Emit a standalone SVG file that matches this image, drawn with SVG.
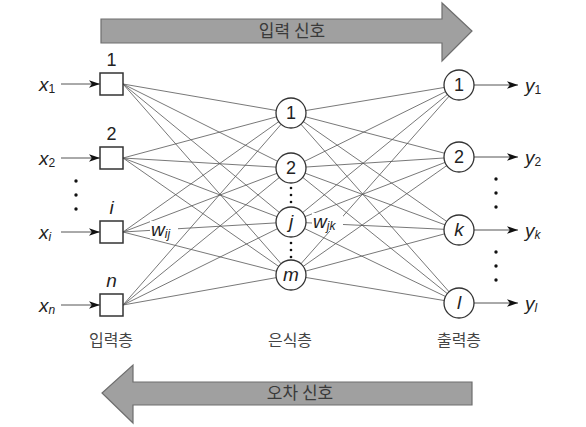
<svg xmlns="http://www.w3.org/2000/svg" width="586" height="427" viewBox="0 0 586 427">
<defs>
<style>
.big{fill:#a0a0a0;stroke:#6e6e6e;stroke-width:1.2}
.bt{font-family:"Noto Sans CJK KR","Liberation Sans",sans-serif;font-size:17px;fill:#3a3a3a;text-anchor:middle}
.lt{font-family:"Noto Sans CJK KR","Liberation Sans",sans-serif;font-size:16px;fill:#444;text-anchor:middle}
.sq{fill:#fff;stroke:#333;stroke-width:1.5}
.nd{fill:#fff;stroke:#333;stroke-width:1.3}
.num{font-family:"Liberation Sans",Arial,sans-serif;font-size:18px;fill:#222;text-anchor:middle}
.it{font-family:"Liberation Sans",Arial,sans-serif;font-size:19px;font-style:italic;fill:#222}
.sub{font-size:12px}
.w{stroke:#555;stroke-width:0.8;fill:none}
.io{stroke:#555;stroke-width:1;fill:none;marker-end:url(#ah)}
.dot{fill:#111}
</style>
<marker id="ah" viewBox="0 0 10 10" refX="10" refY="5" markerWidth="11" markerHeight="11" markerUnits="userSpaceOnUse" orient="auto">
<path d="M0,1.5 L10,5 L0,8.5 L2.5,5 Z" fill="#111"/>
</marker>
</defs>

<g id="arrow-forward">
<path class="big" d="M101,19 H442 V3 L472,31 L442,61 V43 H101 Z"/>
<text class="bt" x="292" y="37">입력 신호</text>
</g>
<g id="arrow-backward">
<path class="big" d="M472,382 H133 V365 L102,393 L133,423 V405 H472 Z"/>
<text class="bt" x="300" y="399">오차 신호</text>
</g>

<g id="connectors">
<g id="weights-ih">
<line class="w" x1="123" y1="84" x2="291" y2="113"/>
<line class="w" x1="123" y1="84" x2="291" y2="168"/>
<line class="w" x1="123" y1="84" x2="291" y2="222"/>
<line class="w" x1="123" y1="84" x2="291" y2="275"/>
<line class="w" x1="123" y1="158" x2="291" y2="113"/>
<line class="w" x1="123" y1="158" x2="291" y2="168"/>
<line class="w" x1="123" y1="158" x2="291" y2="222"/>
<line class="w" x1="123" y1="158" x2="291" y2="275"/>
<line class="w" x1="123" y1="232" x2="291" y2="113"/>
<line class="w" x1="123" y1="232" x2="291" y2="168"/>
<line class="w" x1="123" y1="232" x2="291" y2="222"/>
<line class="w" x1="123" y1="232" x2="291" y2="275"/>
<line class="w" x1="123" y1="305" x2="291" y2="113"/>
<line class="w" x1="123" y1="305" x2="291" y2="168"/>
<line class="w" x1="123" y1="305" x2="291" y2="222"/>
<line class="w" x1="123" y1="305" x2="291" y2="275"/>
</g>
<g id="weights-ho">
<line class="w" x1="291" y1="113" x2="459" y2="85"/>
<line class="w" x1="291" y1="113" x2="459" y2="157"/>
<line class="w" x1="291" y1="113" x2="459" y2="230"/>
<line class="w" x1="291" y1="113" x2="459" y2="303"/>
<line class="w" x1="291" y1="168" x2="459" y2="85"/>
<line class="w" x1="291" y1="168" x2="459" y2="157"/>
<line class="w" x1="291" y1="168" x2="459" y2="230"/>
<line class="w" x1="291" y1="168" x2="459" y2="303"/>
<line class="w" x1="291" y1="222" x2="459" y2="85"/>
<line class="w" x1="291" y1="222" x2="459" y2="157"/>
<line class="w" x1="291" y1="222" x2="459" y2="230"/>
<line class="w" x1="291" y1="222" x2="459" y2="303"/>
<line class="w" x1="291" y1="275" x2="459" y2="85"/>
<line class="w" x1="291" y1="275" x2="459" y2="157"/>
<line class="w" x1="291" y1="275" x2="459" y2="230"/>
<line class="w" x1="291" y1="275" x2="459" y2="303"/>
</g>
<g id="io-arrows">
<line class="io" x1="61" y1="84" x2="100" y2="84"/>
<line class="io" x1="61" y1="158" x2="100" y2="158"/>
<line class="io" x1="61" y1="232" x2="100" y2="232"/>
<line class="io" x1="61" y1="305" x2="100" y2="305"/>
<line class="io" x1="474" y1="85" x2="518" y2="85"/>
<line class="io" x1="474" y1="157" x2="518" y2="157"/>
<line class="io" x1="474" y1="230" x2="518" y2="230"/>
<line class="io" x1="474" y1="303" x2="518" y2="303"/>
</g>
<g id="weight-labels">
<rect x="150" y="221" width="28" height="18" fill="#fff"/>
<text class="it" x="151" y="236">w<tspan class="sub" dy="2">ij</tspan></text>
<rect x="312" y="213" width="31" height="18" fill="#fff"/>
<text class="it" x="313" y="228">w<tspan class="sub" dy="2">jk</tspan></text>
</g>
</g>

<g id="input-1"><rect class="sq" x="100" y="73" width="23" height="22"/><text class="num" x="111.5" y="66">1</text><text class="it" x="39" y="91">x<tspan class="sub" dy="2" font-style="normal">1</tspan></text></g>
<g id="input-2"><rect class="sq" x="100" y="147" width="23" height="22"/><text class="num" x="111.5" y="140">2</text><text class="it" x="39" y="165">x<tspan class="sub" dy="2" font-style="normal">2</tspan></text></g>
<g id="input-i"><rect class="sq" x="100" y="221" width="23" height="22"/><text class="it" x="111.5" y="214" text-anchor="middle">i</text><text class="it" x="39" y="239">x<tspan class="sub" dy="2">i</tspan></text></g>
<g id="input-n"><rect class="sq" x="100" y="294" width="23" height="22"/><text class="it" x="111.5" y="287" text-anchor="middle">n</text><text class="it" x="39" y="312">x<tspan class="sub" dy="2">n</tspan></text></g>
<g id="input-dots"><circle class="dot" cx="76" cy="181" r="1.7"/><circle class="dot" cx="76" cy="195" r="1.7"/><circle class="dot" cx="76" cy="209" r="1.7"/></g>

<g id="hidden-1"><circle class="nd" cx="291" cy="113" r="15"/><text class="num" x="291" y="119">1</text></g>
<g id="hidden-2"><circle class="nd" cx="291" cy="168" r="15"/><text class="num" x="291" y="174">2</text></g>
<g id="hidden-j"><circle class="nd" cx="291" cy="222" r="15"/><text class="it" x="291" y="228" text-anchor="middle">j</text></g>
<g id="hidden-m"><circle class="nd" cx="291" cy="275" r="15"/><text class="it" x="291" y="281" text-anchor="middle">m</text></g>
<g id="hidden-dots"><circle class="dot" cx="291" cy="188" r="1.3"/><circle class="dot" cx="291" cy="195" r="1.3"/><circle class="dot" cx="291" cy="202" r="1.3"/><circle class="dot" cx="291" cy="243" r="1.3"/><circle class="dot" cx="291" cy="250" r="1.3"/><circle class="dot" cx="291" cy="257" r="1.3"/></g>

<g id="output-1"><circle class="nd" cx="459" cy="85" r="15"/><text class="num" x="459" y="91">1</text><text class="it" x="525" y="92">y<tspan class="sub" dy="2" font-style="normal">1</tspan></text></g>
<g id="output-2"><circle class="nd" cx="459" cy="157" r="15"/><text class="num" x="459" y="163">2</text><text class="it" x="525" y="164">y<tspan class="sub" dy="2" font-style="normal">2</tspan></text></g>
<g id="output-k"><circle class="nd" cx="459" cy="230" r="15"/><text class="it" x="459" y="236" text-anchor="middle">k</text><text class="it" x="525" y="237">y<tspan class="sub" dy="2">k</tspan></text></g>
<g id="output-l"><circle class="nd" cx="459" cy="303" r="15"/><text class="it" x="459" y="309" text-anchor="middle">l</text><text class="it" x="525" y="310">y<tspan class="sub" dy="2">l</tspan></text></g>
<g id="output-dots"><circle class="dot" cx="496" cy="179" r="1.7"/><circle class="dot" cx="496" cy="193" r="1.7"/><circle class="dot" cx="496" cy="207" r="1.7"/><circle class="dot" cx="496" cy="252" r="1.7"/><circle class="dot" cx="496" cy="266" r="1.7"/><circle class="dot" cx="496" cy="280" r="1.7"/></g>

<g id="layer-labels">
<text class="lt" x="111" y="346">입력층</text>
<text class="lt" x="290" y="346">은식층</text>
<text class="lt" x="459" y="346">출력층</text>
</g>
</svg>
